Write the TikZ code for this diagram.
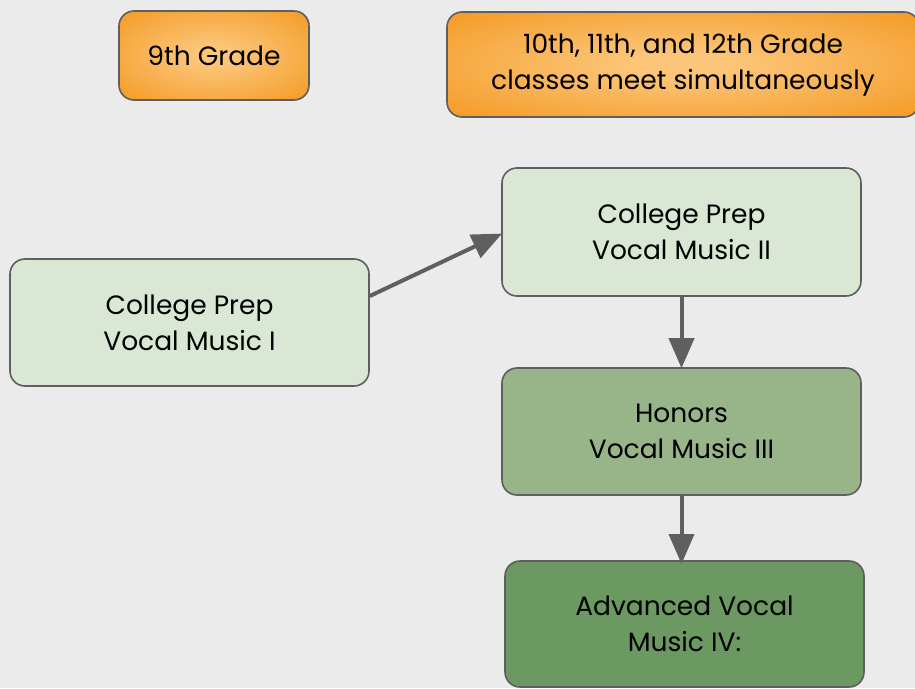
\documentclass[tikz,border=0pt]{standalone}
\usepackage{fontspec}
\setmainfont{Poppins}
\usetikzlibrary{arrows.meta}
\definecolor{bg}{HTML}{EBEBEB}
\definecolor{edge}{HTML}{5F5F5F}
\definecolor{greenA}{HTML}{D9E7D4}
\definecolor{greenB}{HTML}{97B588}
\definecolor{greenC}{HTML}{6C9861}
\definecolor{orangeIn}{HTML}{FCC77C}
\definecolor{orangeOut}{HTML}{F39418}
% soft glow from the centre of the box out to its edges
\pgfdeclareradialshading{glow}{\pgfpoint{0bp}{0bp}}{%
  color(0bp)=(orangeIn); color(6bp)=(orangeIn!95!orangeOut);
  color(40bp)=(orangeOut); color(100bp)=(orangeOut)}
\tikzset{
  box/.style={draw=edge, line width=1.6pt, rounded corners=15pt, align=center,
    font=\fontsize{26.5}{36}\selectfont, inner sep=0pt},
  gradebox/.style={box, shading=glow},
  link/.style={draw=edge, line width=4pt, -{Triangle[length=30pt,width=25pt]}, shorten >=-1pt}
}
\begin{document}
\begin{tikzpicture}[x=1pt,y=1pt]
  \fill[bg] (0,0) rectangle (915,-688);
  \useasboundingbox (0,0) rectangle (915,-688);
  \begin{scope}
    \clip (0,0) rectangle (915,-688);
    \node[gradebox, minimum width=190pt, minimum height=89pt] (g9) at (214,-55.5) {9th Grade};
    \node[gradebox, minimum width=472pt, minimum height=105pt] (g10) at (683,-64.5)
      {\raisebox{-3pt}{\begin{tabular}{@{}c@{}}10th, 11th, and 12th Grade\\classes meet simultaneously\end{tabular}}};
    \node[box, fill=greenA, minimum width=359pt, minimum height=127pt] (cp1) at (189.5,-322.5)
      {College Prep\\Vocal Music I};
    \node[box, fill=greenA, minimum width=359pt, minimum height=128pt] (cp2) at (681.5,-232)
      {College Prep\\Vocal Music II};
    \node[box, fill=greenB, minimum width=359pt, minimum height=127pt] (hon) at (681.5,-431.5)
      {Honors\\Vocal Music III};
    \node[box, fill=greenC, minimum width=359pt, minimum height=126pt] (adv) at (684.5,-624)
      {Advanced Vocal\\Music IV:};
  \end{scope}
  \draw[link] (cp1.east |- 0,-296) -- (cp2.west |- 0,-234);
  \draw[link] (cp2.south) -- (hon.north);
  \draw[link] (hon.south -| 681.5,0) -- (681.5,-563) coordinate (advtop);
\end{tikzpicture}
\end{document}
